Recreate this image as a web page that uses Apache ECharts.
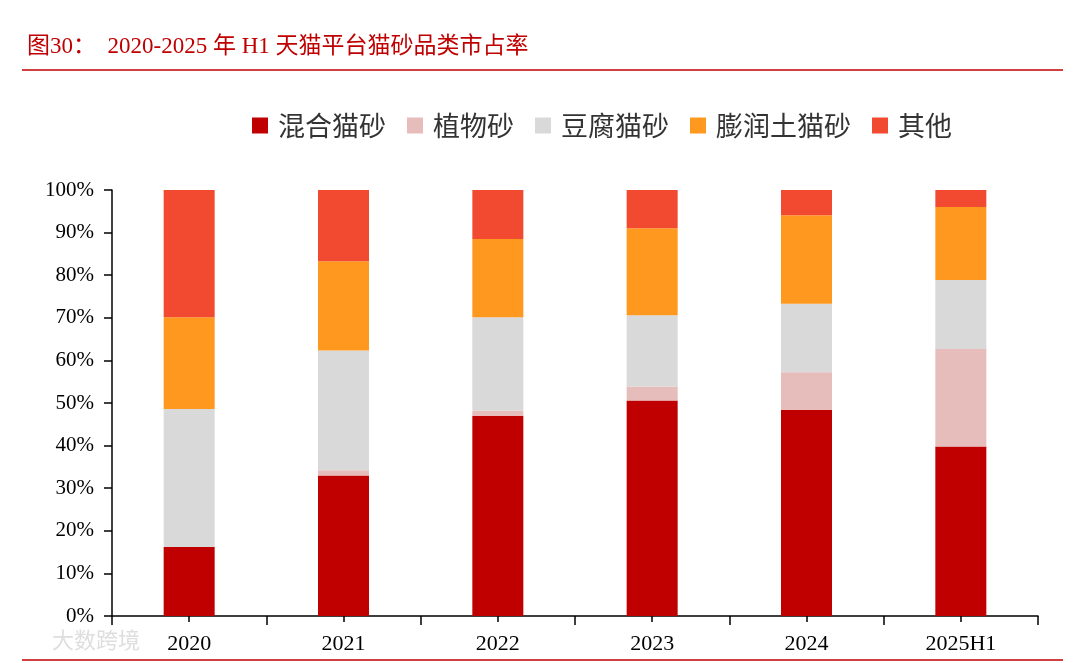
<!DOCTYPE html>
<html>
<head>
<meta charset="utf-8">
<script src="https://cdn.jsdelivr.net/npm/echarts@6/dist/echarts.min.js"></script>
<style>
html,body{margin:0;padding:0;background:#fff;}
#c{width:1080px;height:663px;}
</style>
</head>
<body>
<div id="c"></div>
<script>
const categories = ['2020', '2021', '2022', '2023', '2024', '2025H1'];
const seriesNames = ['混合猫砂', '植物砂', '豆腐猫砂', '膨润土猫砂', '其他'];
const mixed     = [16.2, 33.0, 47.0, 50.6, 48.4, 39.8];
const plant     = [0.0, 1.2, 1.2, 3.3, 8.8, 22.9];
const tofu      = [32.4, 28.1, 21.9, 16.7, 16.1, 16.2];
const bentonite = [21.5, 21.0, 18.4, 20.4, 20.8, 17.1];
const others    = [29.9, 16.7, 11.5, 9.0, 5.9, 4.0];
const yTicks = ['0%', '10%', '20%', '30%', '40%', '50%', '60%', '70%', '80%', '90%', '100%'];

const dataList = [mixed, plant, tofu, bentonite, others];
const colors = ['#C00000', '#E6BDBB', '#D9D9D9', '#FF981E', '#F24A31'];

const serif = '"Liberation Serif", "Times New Roman", "Noto Sans CJK SC", serif';
const cjk = '"Noto Sans CJK SC", sans-serif';

const chart = echarts.init(document.getElementById('c'), null, {renderer: 'canvas'});
chart.setOption({
  animation: false,
  backgroundColor: '#fff',
  color: colors,
  graphic: [
    {type: 'text', left: 27, top: 35, style: {text: '图30：  2020-2025 年 H1 天猫平台猫砂品类市占率', fill: '#C00000', font: '23px ' + serif}},
    {type: 'line', shape: {x1: 22, y1: 70, x2: 1063, y2: 70}, style: {stroke: '#C00000', lineWidth: 1.5}},
    {type: 'line', shape: {x1: 22, y1: 660, x2: 1063, y2: 660}, style: {stroke: '#C00000', lineWidth: 1.5}},
    {type: 'text', left: 52, top: 629, style: {text: '大数跨境', fill: '#dedede', font: '22px ' + cjk}}
  ],
  legend: {
    data: seriesNames,
    left: 247,
    top: 107,
    icon: 'rect',
    itemWidth: 16,
    itemHeight: 16,
    itemGap: 21,
    textStyle: {fontSize: 27, color: '#333', fontFamily: cjk, padding: [0, 0, 0, 5]}
  },
  grid: {left: 112, right: 42, top: 190, bottom: 47, containLabel: false},
  xAxis: [
    {
      type: 'category',
      data: categories,
      axisLine: {lineStyle: {color: '#000', width: 1.5}},
      axisTick: {show: true, length: 9, lineStyle: {color: '#000', width: 1.5}},
      axisLabel: {color: '#000', fontSize: 22, fontFamily: serif, margin: 17}
    },
    {
      type: 'category',
      data: categories,
      position: 'bottom',
      axisLine: {show: false},
      axisTick: {show: true, alignWithLabel: true, length: 6, lineStyle: {color: '#000', width: 1.5}},
      axisLabel: {show: false}
    }
  ],
  yAxis: {
    type: 'value',
    min: 0,
    max: 100,
    interval: 10,
    axisLine: {show: true, lineStyle: {color: '#000', width: 1.5}},
    axisTick: {show: true, length: 8, lineStyle: {color: '#000', width: 1.5}},
    splitLine: {show: false},
    axisLabel: {
      color: '#000', fontSize: 21, fontFamily: serif, margin: 18,
      formatter: function (v) { return yTicks[Math.round(v / 10)]; }
    }
  },
  series: seriesNames.map(function (name, i) {
    return {
      name: name,
      type: 'bar',
      stack: 'total',
      barWidth: 51,
      data: dataList[i],
      itemStyle: {color: colors[i]}
    };
  })
});
</script>
</body>
</html>
